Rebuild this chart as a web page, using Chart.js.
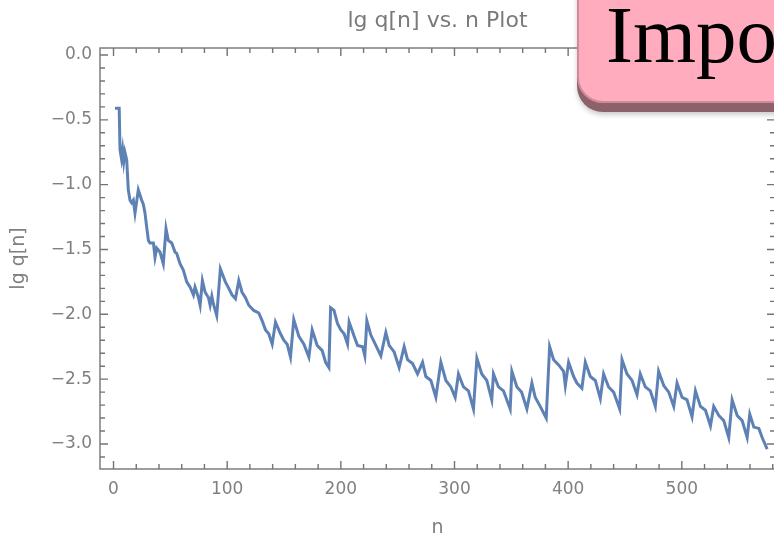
<!DOCTYPE html>
<html>
<head>
<meta charset="utf-8">
<title>lg q[n] vs. n Plot</title>
<script src="https://cdn.jsdelivr.net/npm/chart.js@4.4.0/dist/chart.umd.min.js"></script>
<style>
  html, body { margin: 0; padding: 0; background: #fff; overflow: hidden; }
  #wrap { position: relative; width: 774px; height: 540px; overflow: hidden; }
  #myChart { position: absolute; left: 0; top: 0; }
  .note {
    position: absolute; left: 577px; top: -30px; width: 240px; height: 129px;
    background: #ffacbe; border: 2px solid #cf8b9a; border-radius: 0 0 0 26px;
    box-shadow: 0 9px 0 #8d6169, 0 12px 5px rgba(0,0,0,0.2);
  }
  .note span {
    position: absolute; left: 27px; top: 23px;
    font: 81px/80px "Liberation Serif", "DejaVu Serif", serif; color: #000;
  }
</style>
</head>
<body>
<div id="wrap">
  <canvas id="myChart" width="780" height="540"></canvas>
  <div class="note"><span>Impo</span></div>
</div>
<script>
// values
var nValues = [
  1.3, 5.0, 5.7, 7.0, 8.0, 9.0, 10.0, 11.6, 13.0, 14.5, 15.9, 17.4, 18.9, 21.8, 24.8, 26.2,
  27.7, 29.2, 30.7, 32.1, 35.1, 36.5, 38.0, 40.9, 43.8, 46.2, 48.2, 51.2, 54.1, 55.6, 58.5,
  61.5, 64.4, 67.4, 70.3, 71.7, 74.7, 76.2, 78.2, 80.6, 83.5, 85.0, 86.5, 87.9, 90.8, 94.0,
  98.4, 101.4, 104.3, 107.3, 110.2, 113.1, 116.0, 119.0, 123.4, 127.8, 130.8, 133.7, 136.6,
  139.6, 142.5, 146.9, 149.8, 152.8, 155.7, 158.6, 163.1, 167.5, 171.9, 174.8, 179.2, 183.6,
  186.6, 189.5, 191.0, 194.0, 197.0, 200.0, 202.9, 205.9, 207.3, 211.7, 214.7, 219.1, 221.1,
  222.9, 226.4, 230.8, 235.2, 239.6, 242.5, 246.9, 251.3, 255.7, 258.7, 263.1, 267.5, 271.9,
  274.8, 279.2, 283.6, 288.0, 292.4, 296.8, 300.6, 303.5, 307.9, 312.3, 316.7, 319.7, 324.0,
  328.4, 332.8, 334.3, 338.7, 343.1, 349.0, 350.5, 354.9, 359.0, 363.7, 368.1, 371.0, 375.4,
  380.7, 383.7, 387.2, 391.6, 396.0, 397.5, 400.4, 404.8, 407.7, 412.1, 415.1, 419.5, 423.9,
  428.3, 431.2, 435.6, 440.0, 445.3, 447.4, 451.8, 456.2, 460.6, 463.5, 467.9, 472.3, 476.7,
  479.6, 484.1, 488.5, 492.9, 495.8, 500.2, 504.6, 509.0, 512.0, 516.4, 520.8, 525.2, 528.1,
  532.5, 536.9, 541.3, 544.3, 548.7, 553.1, 557.5, 559.8, 563.4, 567.8, 570.7, 575.1
];
var lgQ = [
  -0.41, -0.41, -0.73, -0.80, -0.73, -0.82, -0.75, -0.81, -1.04, -1.12, -1.14, -1.12, -1.22, -1.04, -1.12, -1.15,
  -1.22, -1.33, -1.43, -1.45, -1.45, -1.56, -1.49, -1.52, -1.61, -1.34, -1.43, -1.45, -1.52, -1.53, -1.61,
  -1.66, -1.75, -1.79, -1.85, -1.79, -1.87, -1.93, -1.74, -1.83, -1.87, -1.93, -1.86, -1.92, -2.01, -1.65,
  -1.75, -1.80, -1.85, -1.88, -1.74, -1.83, -1.87, -1.93, -1.97, -1.99, -2.05, -2.12, -2.15,
  -2.23, -2.06, -2.15, -2.20, -2.23, -2.33, -2.04, -2.17, -2.23, -2.33, -2.12, -2.24, -2.28,
  -2.37, -2.41, -1.95, -1.97, -2.07, -2.12, -2.15, -2.23, -2.06, -2.17, -2.24, -2.25, -2.32,
  -2.05, -2.16, -2.24, -2.32, -2.14, -2.24, -2.29, -2.41, -2.25, -2.35, -2.38, -2.46, -2.37,
  -2.48, -2.51, -2.64, -2.37, -2.51, -2.56, -2.64, -2.46, -2.56, -2.59, -2.73, -2.34, -2.46,
  -2.51, -2.66, -2.46, -2.56, -2.59, -2.73, -2.44, -2.56, -2.60, -2.73, -2.53, -2.64, -2.71,
  -2.80, -2.25, -2.35, -2.39, -2.44, -2.55, -2.37, -2.48, -2.53, -2.57, -2.37, -2.48, -2.51,
  -2.65, -2.46, -2.56, -2.60, -2.73, -2.35, -2.46, -2.51, -2.62, -2.46, -2.56, -2.59, -2.71,
  -2.44, -2.55, -2.60, -2.71, -2.53, -2.64, -2.66, -2.79, -2.59, -2.71, -2.74, -2.86, -2.71,
  -2.78, -2.82, -2.95, -2.66, -2.78, -2.82, -2.95, -2.77, -2.87, -2.88, -2.95, -3.04
];
var xTickLabels = [0, 100, 200, 300, 400, 500];
var yTickLabels = [0.0, -0.5, -1.0, -1.5, -2.0, -2.5, -3.0];

var FONT = '"DejaVu Sans", "Liberation Sans", sans-serif';
var GREY = '#808080';

function fmt(v, digits) {
    return v.toFixed(digits).replace('-', '\u2212');
}

// Mathematica style frame with inward ticks on all four sides
var frameTicks = {
    id: 'frameTicks',
    afterDatasetsDraw: function (chart) {
        var ctx = chart.ctx, a = chart.chartArea;
        var x = chart.scales.x, y = chart.scales.y;
        ctx.save();
        ctx.strokeStyle = '#747474';
        ctx.lineWidth = 1.4;
        ctx.strokeRect(a.left, a.top, a.right - a.left, a.bottom - a.top);
        ctx.beginPath();
        for (var v = 0; v <= x.max; v += 20) {
            var px = x.getPixelForValue(v);
            var len = v % 100 === 0 ? 8 : 5;
            ctx.moveTo(px, a.bottom); ctx.lineTo(px, a.bottom - len);
            ctx.moveTo(px, a.top); ctx.lineTo(px, a.top + len);
        }
        for (var k = 0; -k / 10 >= y.min; k++) {
            var py = y.getPixelForValue(-k / 10);
            var l = k % 5 === 0 ? 8 : 5;
            ctx.moveTo(a.left, py); ctx.lineTo(a.left + l, py);
            ctx.moveTo(a.right, py); ctx.lineTo(a.right - l, py);
        }
        ctx.stroke();
        ctx.restore();
    }
};

var ctx = document.getElementById('myChart');
new Chart(ctx, {
    type: 'scatter',
    data: {
        datasets: [{
            data: nValues.map(function (n, i) { return { x: n, y: lgQ[i] }; }),
            showLine: true,
            borderColor: '#5e81b5',
            borderWidth: 3,
            pointRadius: 0,
            tension: 0
        }]
    },
    options: {
        responsive: false,
        animation: false,
        devicePixelRatio: 1,
        layout: { padding: { left: 0, right: 5, top: 0, bottom: 0 } },
        plugins: {
            legend: { display: false },
            tooltip: { enabled: false },
            title: {
                display: true,
                text: 'lg q[n] vs. n Plot',
                color: '#7a7a7a',
                fullSize: false,
                font: { family: FONT, size: 22, weight: 'normal' },
                padding: { top: 8, bottom: 13.6 }
            }
        },
        scales: {
            x: {
                type: 'linear',
                min: -11.9,
                max: 582,
                grid: { display: false, drawTicks: false },
                border: { display: false },
                afterBuildTicks: function (s) {
                    s.ticks = xTickLabels.map(function (v) { return { value: v }; });
                },
                afterFit: function (s) { s.height = 71; },
                ticks: {
                    color: GREY,
                    padding: 10,
                    maxRotation: 0,
                    autoSkip: false,
                    font: { family: FONT, size: 17 },
                    callback: function (v) { return fmt(v, 0); }
                },
                title: {
                    display: true,
                    text: 'n',
                    color: GREY,
                    font: { family: FONT, size: 19 },
                    padding: { top: 0, bottom: 1 }
                }
            },
            y: {
                type: 'linear',
                min: -3.193,
                max: 0.054,
                grid: { display: false, drawTicks: false },
                border: { display: false },
                afterBuildTicks: function (s) {
                    s.ticks = yTickLabels.map(function (v) { return { value: v }; });
                },
                afterFit: function (s) { s.width = 100; },
                ticks: {
                    color: GREY,
                    padding: 8,
                    autoSkip: false,
                    font: { family: FONT, size: 17 },
                    callback: function (v) { return fmt(v, 1); }
                },
                title: {
                    display: true,
                    text: 'lg q[n]',
                    color: GREY,
                    font: { family: FONT, size: 19 },
                    padding: { top: 8, bottom: 0 }
                }
            }
        }
    },
    plugins: [frameTicks]
});
</script>
</body>
</html>
